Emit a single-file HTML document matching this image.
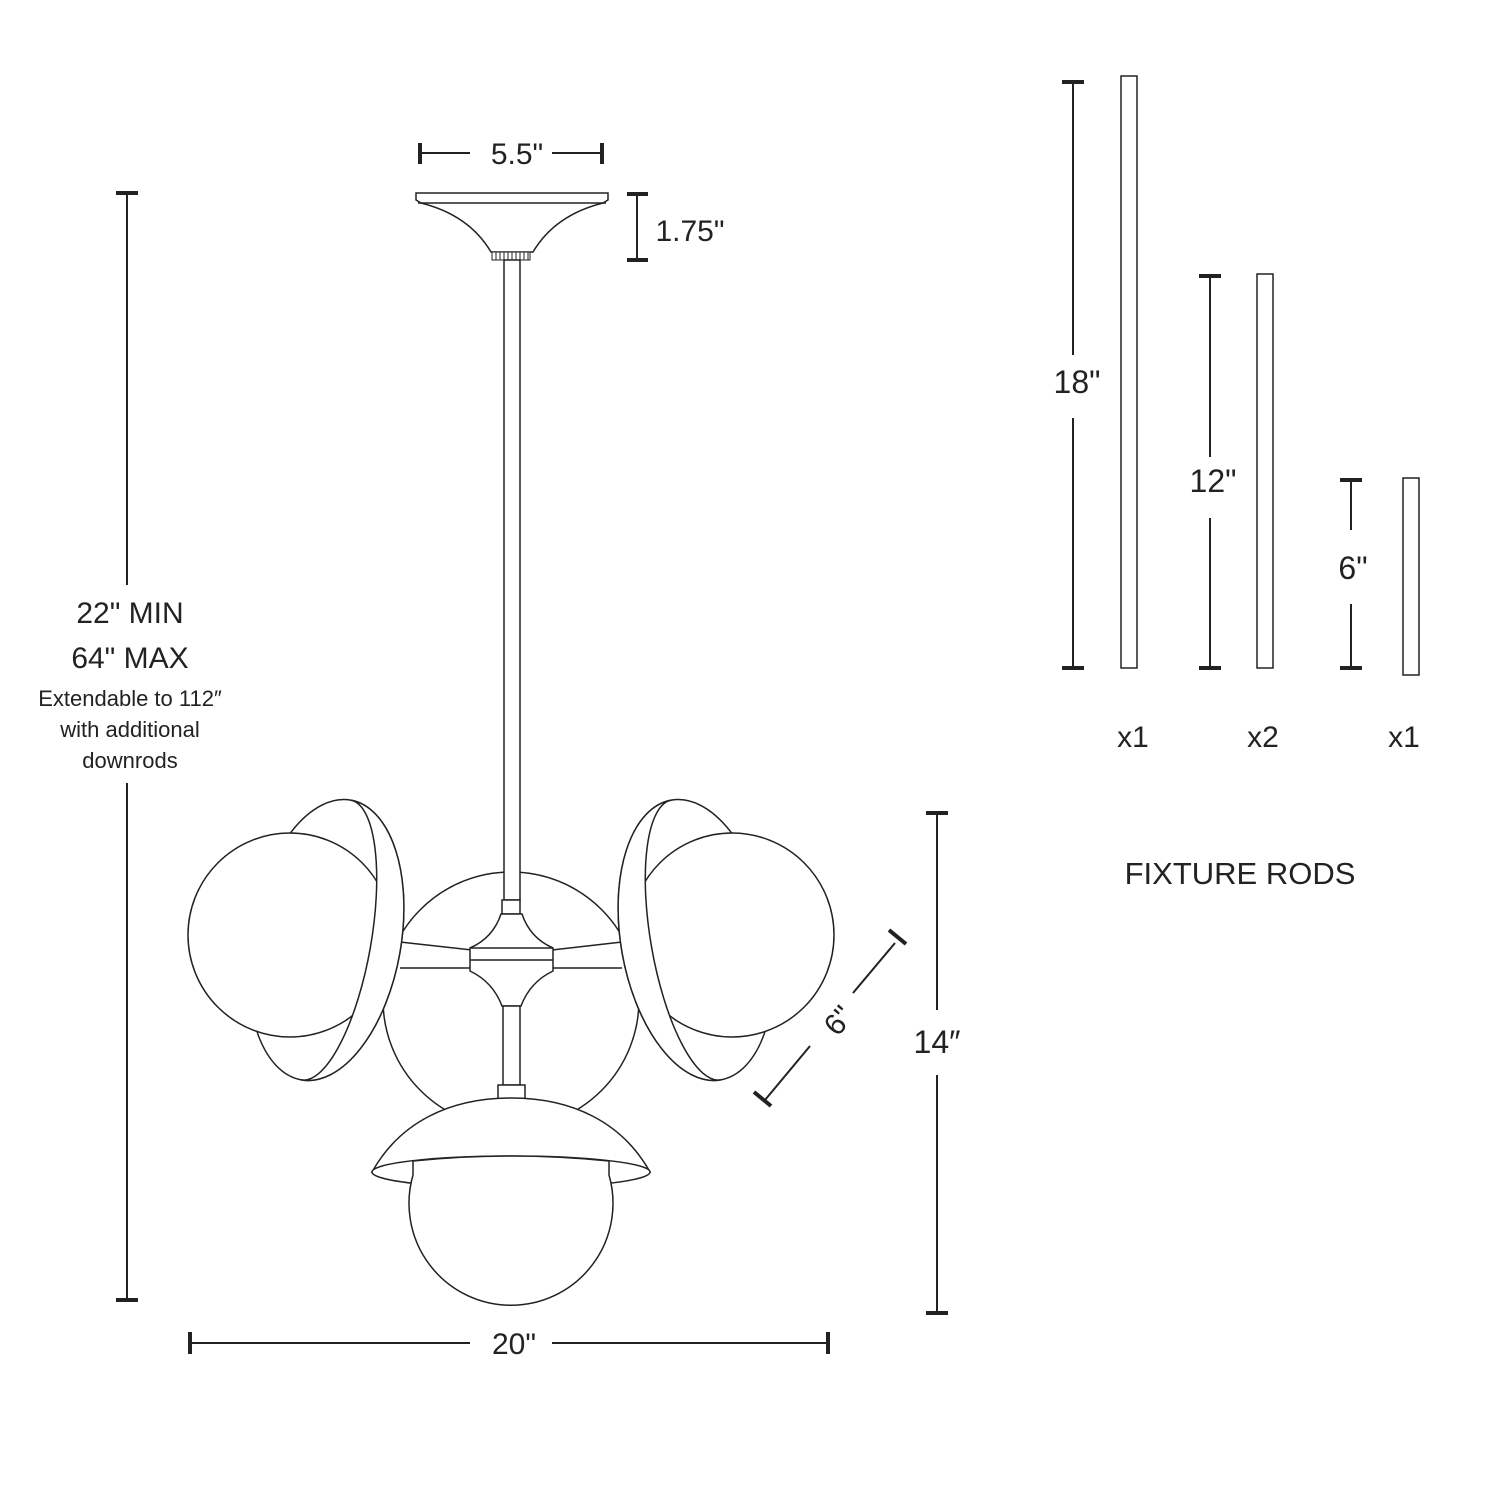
<!DOCTYPE html>
<html><head><meta charset="utf-8"><style>
html,body{margin:0;padding:0;background:#fff;}
svg{display:block;}
text{font-family:"Liberation Sans",sans-serif;fill:#222;}
</style></head><body>
<svg width="1500" height="1500" viewBox="0 0 1500 1500" xmlns="http://www.w3.org/2000/svg">
<g fill="none" stroke="#222" stroke-width="2">
<line x1="420" y1="153" x2="470" y2="153"/><line x1="552" y1="153" x2="602" y2="153"/>
<line x1="420" y1="143" x2="420" y2="164" stroke-width="4"/><line x1="602" y1="143" x2="602" y2="164" stroke-width="4"/>
<line x1="637" y1="194" x2="637" y2="260"/>
<line x1="627" y1="194" x2="648" y2="194" stroke-width="4"/><line x1="627" y1="260" x2="648" y2="260" stroke-width="4"/>
<line x1="127" y1="193" x2="127" y2="585"/><line x1="127" y1="783" x2="127" y2="1300"/>
<line x1="116" y1="193" x2="138" y2="193" stroke-width="4"/><line x1="116" y1="1300" x2="138" y2="1300" stroke-width="4"/>
<line x1="937" y1="813" x2="937" y2="1010"/><line x1="937" y1="1075" x2="937" y2="1313"/>
<line x1="926" y1="813" x2="948" y2="813" stroke-width="4"/><line x1="926" y1="1313" x2="948" y2="1313" stroke-width="4"/>
<line x1="190" y1="1343" x2="470" y2="1343"/><line x1="552" y1="1343" x2="828" y2="1343"/>
<line x1="190" y1="1332" x2="190" y2="1354" stroke-width="4"/><line x1="828" y1="1332" x2="828" y2="1354" stroke-width="4"/>
<line x1="765" y1="1100" x2="810" y2="1046"/><line x1="853" y1="993" x2="895" y2="943"/>
<line x1="754" y1="1092" x2="771" y2="1106" stroke-width="4"/><line x1="889" y1="930" x2="906" y2="944" stroke-width="4"/>
<line x1="1073" y1="82" x2="1073" y2="355"/><line x1="1073" y1="418" x2="1073" y2="668"/>
<line x1="1062" y1="82" x2="1084" y2="82" stroke-width="4"/><line x1="1062" y1="668" x2="1084" y2="668" stroke-width="4"/>
<rect x="1121" y="76" width="16" height="592" stroke-width="1.5"/>
<line x1="1210" y1="276" x2="1210" y2="457"/><line x1="1210" y1="518" x2="1210" y2="668"/>
<line x1="1199" y1="276" x2="1221" y2="276" stroke-width="4"/><line x1="1199" y1="668" x2="1221" y2="668" stroke-width="4"/>
<rect x="1257" y="274" width="16" height="394" stroke-width="1.5"/>
<line x1="1351" y1="480" x2="1351" y2="530"/><line x1="1351" y1="604" x2="1351" y2="668"/>
<line x1="1340" y1="480" x2="1362" y2="480" stroke-width="4"/><line x1="1340" y1="668" x2="1362" y2="668" stroke-width="4"/>
<rect x="1403" y="478" width="16" height="197" stroke-width="1.5"/>
</g>
<g fill="#fff" stroke="#222" stroke-width="1.5">
<path d="M416,193 H608 V200 L603,203 Q555,215 533,252 H491 Q469,215 421,203 L416,200 Z"/>
<line x1="418" y1="203" x2="606" y2="203"/>
<rect x="492" y="252" width="38" height="8" stroke-width="1"/>
<g stroke-width="1">
<line x1="496" y1="252" x2="496" y2="260"/><line x1="500" y1="252" x2="500" y2="260"/><line x1="504" y1="252" x2="504" y2="260"/><line x1="508" y1="252" x2="508" y2="260"/><line x1="512" y1="252" x2="512" y2="260"/><line x1="516" y1="252" x2="516" y2="260"/><line x1="520" y1="252" x2="520" y2="260"/><line x1="524" y1="252" x2="524" y2="260"/><line x1="528" y1="252" x2="528" y2="260"/>
</g>
<circle cx="511" cy="1000" r="128"/>
<path d="M400,942 L472,950 M400,968 L472,968 M622,942 L552,950 M622,968 L552,968" fill="none"/>
<rect x="504" y="260" width="16" height="640"/>
<!-- left shade + globe -->
<g transform="translate(326,940) rotate(10)"><ellipse cx="0" cy="0" rx="75" ry="142"/></g>
<circle cx="290" cy="935" r="102"/>
<g transform="translate(326,940) rotate(10)"><path d="M0,-142 A75,142 0 0,1 0,142 A45,142 0 0,0 0,-142 Z"/></g>
<!-- right shade + globe -->
<g transform="translate(696,940) rotate(-10)"><ellipse cx="0" cy="0" rx="75" ry="142"/></g>
<circle cx="732" cy="935" r="102"/>
<g transform="translate(696,940) rotate(-10)"><path d="M0,-142 A75,142 0 0,0 0,142 A45,142 0 0,1 0,-142 Z"/></g>
<!-- hub -->
<rect x="502" y="900" width="18" height="14"/>
<path d="M501,914 H522 Q530,938 553,948 V971 Q530,982 521,1006 H502 Q493,982 470,971 V948 Q493,938 501,914 Z"/>
<line x1="470" y1="948" x2="553" y2="948"/><line x1="470" y1="960" x2="553" y2="960"/>
<rect x="503" y="1006" width="17" height="79"/>
<rect x="498" y="1085" width="27" height="14"/>
<!-- bottom shade + globe -->
<path d="M372,1172 C400,1122 450,1098 511,1098 C572,1098 622,1122 650,1172 Z"/>
<ellipse cx="511" cy="1172" rx="139" ry="16"/>
<path d="M413,1161 L413,1175 A102,102 0 1,0 609,1175 L609,1161 Q511,1151 413,1161 Z"/>
</g>
<g text-anchor="middle">
<text x="517" y="164" font-size="30">5.5"</text>
<text x="690" y="241" font-size="30">1.75"</text>
<text x="130" y="623" font-size="30">22" MIN</text>
<text x="130" y="668" font-size="30">64" MAX</text>
<text x="130" y="706" font-size="22">Extendable to 112″</text>
<text x="130" y="737" font-size="22">with additional</text>
<text x="130" y="768" font-size="22">downrods</text>
<text x="937" y="1053" font-size="32">14″</text>
<text x="514" y="1354" font-size="30">20"</text>
<text x="0" y="0" font-size="30" transform="translate(838,1020) rotate(-50) translate(0,11)">6"</text>
<text x="1077" y="393" font-size="32">18"</text>
<text x="1213" y="492" font-size="32">12"</text>
<text x="1353" y="579" font-size="32">6"</text>
<text x="1133" y="747" font-size="30">x1</text>
<text x="1263" y="747" font-size="30">x2</text>
<text x="1404" y="747" font-size="30">x1</text>
<text x="1240" y="884" font-size="31">FIXTURE RODS</text>
</g>
</svg>
</body></html>
